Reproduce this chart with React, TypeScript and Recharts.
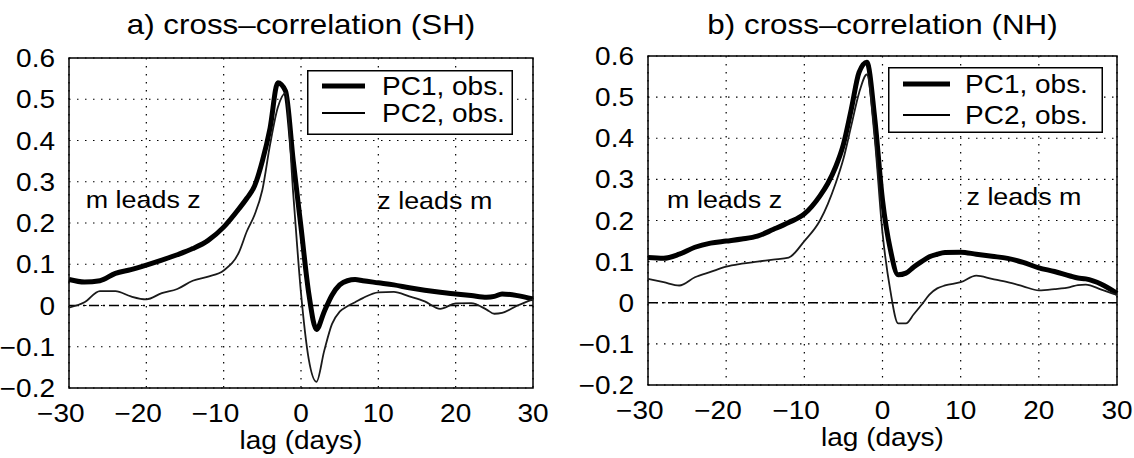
import React from 'react';
import {
  LineChart,
  Line,
  XAxis,
  YAxis,
  CartesianGrid,
  ReferenceLine,
  ReferenceArea,
  ReferenceDot,
  Legend,
} from 'recharts';

// lag in days (negative: m leads z)
const LAGS = [
  -30, -28, -26, -24, -22, -20, -18, -16, -14, -12, -10, -8, -7, -6, -5, -4, -3, -2, -1, 0,
  1, 2, 3, 4, 5, 6, 7, 8, 10, 12, 14, 16, 18, 20, 22, 24, 25, 26, 28, 30,
];

// Southern Hemisphere
const SH_PC1 = [
  0.063, 0.057, 0.06, 0.078, 0.087, 0.098, 0.11, 0.123, 0.138, 0.158, 0.19, 0.235, 0.26, 0.29, 0.35, 0.43, 0.54, 0.52, 0.35, 0.19,
  0.03, -0.058, -0.015, 0.025, 0.05, 0.06, 0.063, 0.06, 0.055, 0.05, 0.043, 0.037, 0.032, 0.028, 0.024, 0.02, 0.022, 0.028, 0.024, 0.016,
];
const SH_PC2 = [
  -0.005, 0.008, 0.035, 0.035, 0.022, 0.015, 0.03, 0.04, 0.06, 0.07, 0.085, 0.13, 0.18, 0.22, 0.28, 0.39, 0.48, 0.515, 0.27, 0.03,
  -0.13, -0.185, -0.11, -0.045, -0.015, -0.002, 0.008, 0.018, 0.032, 0.033, 0.022, 0.01, -0.008, 0.005, 0.006, -0.01, -0.02, -0.018, 0.0, 0.015,
];

// Northern Hemisphere
const NH_PC1 = [
  0.11, 0.108, 0.118, 0.135, 0.145, 0.15, 0.155, 0.162, 0.178, 0.195, 0.216, 0.26, 0.29, 0.33, 0.385, 0.47, 0.56, 0.585, 0.45, 0.25,
  0.13, 0.068, 0.072, 0.087, 0.1, 0.112, 0.118, 0.122, 0.123, 0.118, 0.113, 0.108, 0.098, 0.085, 0.076, 0.065, 0.06, 0.058, 0.045, 0.023,
];
const NH_PC2 = [
  0.058, 0.05, 0.042, 0.062, 0.075, 0.088, 0.095, 0.1, 0.105, 0.11, 0.15, 0.2, 0.24, 0.29, 0.35, 0.43, 0.51, 0.555, 0.4, 0.17,
  0.03, -0.05, -0.05, -0.028, -0.005, 0.02, 0.035, 0.042, 0.05, 0.066, 0.058, 0.05, 0.04, 0.03, 0.033, 0.038, 0.043, 0.044, 0.032, 0.019,
];

const LAG_TICKS = [-30, -20, -10, 0, 10, 20, 30];
const CORR_TICKS = [-0.2, -0.1, 0, 0.1, 0.2, 0.3, 0.4, 0.5, 0.6];
const SERIES_NAMES = ['PC1, obs.', 'PC2, obs.'];
const NOTE_LEFT = 'm leads z';
const NOTE_RIGHT = 'z leads m';

const FONT = '"Liberation Sans", Arial, Helvetica, sans-serif';
const SX = 1.12; // the old Helvetica print runs a bit wide
const FS = 25;

const minus = (v: number) => (v < 0 ? '\u2212' + String(-v) : String(v));

// x ticks: digits centred on the tick, the minus sign hangs to the left
const XTick = ({ x, y, payload }: any) => {
  const v = payload.value as number;
  const digits = String(Math.abs(v));
  const half = (digits.length * 0.556 * FS) / 2;
  return (
    <g transform={`translate(${x},${y}) scale(${SX},1)`}>
      <text x={half} y={34} textAnchor="end" fontSize={FS} fontFamily={FONT} fill="#000">
        {minus(v)}
      </text>
    </g>
  );
};

const YTick = ({ x, y, payload }: any) => (
  <g transform={`translate(${x},${y}) scale(${SX},1)`}>
    <text x={0} y={9} textAnchor="end" fontSize={FS} fontFamily={FONT} fill="#000">
      {minus(payload.value)}
    </text>
  </g>
);

const AxisTitle = ({ viewBox }: any) => {
  const cx = viewBox.x + viewBox.width / 2;
  return (
    <g transform={`translate(${cx},${viewBox.y + 61}) scale(${SX},1)`}>
      <text textAnchor="middle" fontSize={FS} fontFamily={FONT} fill="#000">
        lag (days)
      </text>
    </g>
  );
};

const Note = ({ viewBox, text }: any) => {
  const cx = viewBox.x + viewBox.width / 2;
  const cy = viewBox.y + viewBox.height / 2;
  return (
    <g transform={`translate(${cx},${cy}) scale(${SX},1)`}>
      <text textAnchor="middle" y={8.5} fontSize={24} fontFamily={FONT} fill="#000">
        {text}
      </text>
    </g>
  );
};

type Box = { left: number; top: number; w: number; h: number; l0: number; l1: number; tx: number; rows: number[] };

const LegendBox = ({ payload, box }: any) => {
  const b = box as Box;
  return (
    <svg width={b.w} height={b.h} style={{ display: 'block' }}>
      <rect x={0.75} y={0.75} width={b.w - 1.5} height={b.h - 1.5} fill="#fff" stroke="#000" strokeWidth={1.5} />
      {(payload || []).map((p: any, i: number) => (
        <g key={p.value}>
          <line
            x1={b.l0}
            x2={b.l1}
            y1={b.rows[i]}
            y2={b.rows[i]}
            stroke="#000"
            strokeWidth={p.dataKey === 'pc1' ? 5 : 1.8}
          />
          <g transform={`translate(${b.tx},${b.rows[i] + 9}) scale(${SX},1)`}>
            <text fontSize={FS} fontFamily={FONT} fill="#000">
              {p.value}
            </text>
          </g>
        </g>
      ))}
    </svg>
  );
};

type PanelProps = {
  left: number;
  width: number;
  plot: { top: number; right: number; bottom: number; left: number };
  title: string;
  pc1: number[];
  pc2: number[];
  box: Box;
  notes: { x: number; y: number; text: string }[];
};

const Panel = ({ left, width, plot, title, pc1, pc2, box, notes }: PanelProps) => {
  const data = LAGS.map((lag, i) => ({ lag, pc1: pc1[i], pc2: pc2[i] }));
  const plotW = width - plot.left - plot.right;
  // axes take 1px each, so pull the margins in by that much
  const margin = { top: plot.top, right: plot.right, bottom: plot.bottom - 1, left: plot.left - 1 };
  return (
    <div style={{ position: 'absolute', left, top: 0, width, height: 458 }}>
      <div
        style={{
          position: 'absolute',
          left: plot.left,
          width: plotW,
          top: 11,
          textAlign: 'center',
          fontFamily: FONT,
          fontSize: 28,
          lineHeight: 1,
          whiteSpace: 'nowrap',
          transform: `scaleX(${SX})`,
        }}
      >
        {title}
      </div>
      <LineChart width={width} height={458} data={data} margin={margin}>
        <CartesianGrid stroke="#000" strokeWidth={1.2} strokeDasharray="1.5 6.5" />
        <XAxis
          dataKey="lag"
          type="number"
          domain={[-30, 30]}
          ticks={LAG_TICKS}
          interval={0}
          height={1}
          tickSize={0}
          tickMargin={0}
          axisLine={false}
          tick={<XTick />}
          label={<AxisTitle />}
        />
        <YAxis
          type="number"
          domain={[-0.2, 0.6]}
          ticks={CORR_TICKS}
          interval={0}
          width={1}
          tickSize={0}
          tickMargin={14}
          axisLine={false}
          tick={<YTick />}
        />
        <ReferenceLine y={0} stroke="#000" strokeWidth={1.6} strokeDasharray="10 4 2 4" />
        <ReferenceArea x1={-30} x2={30} y1={-0.2} y2={0.6} fill="none" stroke="#000" strokeWidth={1.5} />
        {notes.map((n) => (
          <ReferenceDot key={n.text} x={n.x} y={n.y} r={0} stroke="none" fill="none" label={<Note text={n.text} />} />
        ))}
        <Line
          dataKey="pc1"
          name={SERIES_NAMES[0]}
          type="monotone"
          stroke="#000"
          strokeWidth={5}
          dot={false}
          isAnimationActive={false}
        />
        <Line
          dataKey="pc2"
          name={SERIES_NAMES[1]}
          type="monotone"
          stroke="#1a1a1a"
          strokeWidth={1.8}
          dot={false}
          isAnimationActive={false}
        />
        <Legend
          layout="vertical"
          align="center"
          verticalAlign="middle"
          wrapperStyle={{ left: box.left, top: box.top, width: box.w, height: box.h }}
          content={(props: any) => <LegendBox {...props} box={box} />}
        />
      </LineChart>
    </div>
  );
};

export default function App() {
  return (
    <div
      style={{
        position: 'absolute',
        left: 0,
        top: 0,
        width: 1134,
        height: 458,
        background: '#fff',
        overflow: 'hidden',
      }}
    >
      <Panel
        left={0}
        width={560}
        plot={{ top: 58, right: 27, bottom: 70, left: 69 }}
        title="a) cross–correlation (SH)"
        pc1={SH_PC1}
        pc2={SH_PC2}
        box={{ left: 307, top: 70, w: 206, h: 65, l0: 15, l1: 58, tx: 75, rows: [16, 43] }}
        notes={[
          { x: -20.4, y: 0.257, text: NOTE_LEFT },
          { x: 17.3, y: 0.254, text: NOTE_RIGHT },
        ]}
      />
      <Panel
        left={560}
        width={574}
        plot={{ top: 56, right: 17, bottom: 73, left: 88 }}
        title="b) cross–correlation (NH)"
        pc1={NH_PC1}
        pc2={NH_PC2}
        box={{ left: 328, top: 67, w: 215, h: 66, l0: 15, l1: 62, tx: 77, rows: [17, 48] }}
        notes={[
          { x: -20.2, y: 0.252, text: NOTE_LEFT },
          { x: 18.1, y: 0.258, text: NOTE_RIGHT },
        ]}
      />
    </div>
  );
}
